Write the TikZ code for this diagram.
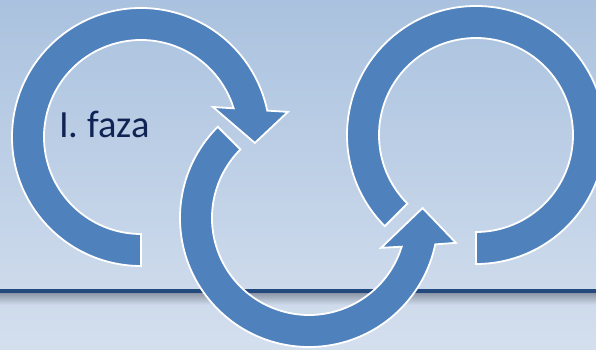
\documentclass[tikz,border=0pt]{standalone}
\usepackage{fontspec}
\setmainfont{Carlito}
\definecolor{arrowblue}{RGB}{79,129,189}
\definecolor{textnavy}{RGB}{15,36,84}
\definecolor{linenavy}{RGB}{36,74,125}
\definecolor{bgtop}{RGB}{170,194,223}
\definecolor{bgbottom}{RGB}{212,223,238}
\definecolor{shadowgray}{RGB}{140,150,166}

\begin{document}
\begin{tikzpicture}[x=1pt,y=1pt,
        ring/.style={fill=arrowblue,draw=white,line width=1.8pt,line join=miter},
        phase/.style={font=\fontsize{38.5}{38.5}\selectfont,text=textnavy,inner sep=0pt,anchor=base west}]
    \useasboundingbox (0,0) rectangle (596,350);
    % background and rule
    \shade[top color=bgtop,bottom color=bgbottom] (0,0) rectangle (596,350);
    \shade[top color=shadowgray,bottom color=bgbottom!90!bgtop] (0,45) rectangle (596,57);
    \fill[linenavy] (0,57) rectangle (596,61);
    % ring centres
    \coordinate (first) at (141,213);
    \coordinate (second) at (309,132);
    \coordinate (third) at (476,215);
    % first phase
    \begin{scope}[shift={(first)}]
        \draw[ring] (270:129) arc[start angle=270,end angle=11.8,radius=129]
            -- (9.7:149) -- (-3:114) -- (22.6:78) -- (17.2:97)
            arc[start angle=17.2,end angle=270,radius=97] -- cycle;
    \end{scope}
    % second phase
    \begin{scope}[shift={(second)}]
        \draw[ring] (135:129) arc[start angle=135,end angle=348.2,radius=129]
            -- (350.4:149) -- (5:114) -- (337.5:78) -- (342.8:97)
            arc[start angle=342.8,end angle=135,radius=97] -- cycle;
    \end{scope}
    % third phase
    \begin{scope}[shift={(third)}]
        \draw[ring] (-90:129) arc[start angle=-90,end angle=225,radius=129]
            -- (225:97) arc[start angle=225,end angle=-90,radius=97] -- cycle;
    \end{scope}
    \node[phase] (faza) at (59,212) {I. faza};
\end{tikzpicture}
\end{document}
